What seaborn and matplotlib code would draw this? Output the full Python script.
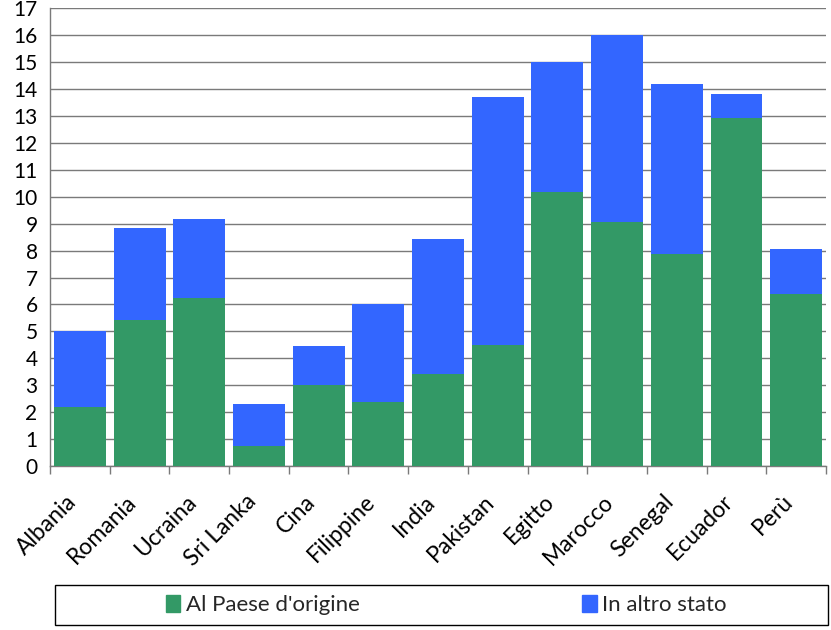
import pandas as pd
import matplotlib.pyplot as plt
import matplotlib.transforms as mtrans
import seaborn as sns
from matplotlib.patches import Patch, Rectangle

# dati
paesi = ["Albania", "Romania", "Ucraina", "Sri Lanka", "Cina", "Filippine", "India",
         "Pakistan", "Egitto", "Marocco", "Senegal", "Ecuador", "Perù"]
paese_origine = [2.2, 5.41, 6.24, 0.75, 3.0, 2.37, 3.41, 4.49, 10.16, 9.06, 7.89, 12.92, 6.38]
altro_stato = [2.8, 3.42, 2.92, 1.57, 1.45, 3.63, 5.01, 9.23, 4.84, 6.94, 6.31, 0.91, 1.67]

VERDE = "#339966"
BLU = "#3366FF"

sns.set_theme(style="white")
plt.rcParams['font.family'] = ['Lato', 'DejaVu Sans']

df = pd.DataFrame({"paese": paesi, "origine": paese_origine, "altro": altro_stato})
df["totale"] = df["origine"] + df["altro"]

fig = plt.figure(figsize=(8.31, 6.30), dpi=100)
ax = fig.add_axes([0.0602, 0.2603, 0.9338, 0.7265])

# barre impilate: prima il totale (blu), sopra la parte verde
sns.barplot(data=df, x="paese", y="totale", color=BLU, saturation=1, width=0.87, ax=ax,
            zorder=3, linewidth=0)
sns.barplot(data=df, x="paese", y="origine", color=VERDE, saturation=1, width=0.87, ax=ax,
            zorder=4, linewidth=0)

ax.set_ylim(0, 17)
ax.set_xlim(-0.5, len(paesi) - 0.5)
ax.set_yticks(range(0, 18))
ax.grid(axis="y", color="#7a7a7a", linewidth=1, zorder=0)
ax.set_xlabel("")
ax.set_ylabel("")

for s in ["top", "right"]:
    ax.spines[s].set_visible(False)
for s in ["left", "bottom"]:
    ax.spines[s].set_color("#7a7a7a")
    ax.spines[s].set_linewidth(1)

ax.tick_params(axis="y", length=7, width=1, color="#7a7a7a", labelsize=15, pad=2, labelcolor="black")
ax.tick_params(axis="x", which="major", length=0, labelsize=16.5, pad=18, labelcolor="black")
ax.set_xticks([i - 0.5 for i in range(len(paesi) + 1)], minor=True)
ax.tick_params(axis="x", which="minor", length=6, width=1, color="#7a7a7a", direction="out", bottom=True)
sposta = mtrans.ScaledTranslation(-14 / 100, 0, fig.dpi_scale_trans)
for lab in ax.get_xticklabels():
    lab.set_rotation(45)
    lab.set_ha("right")
    lab.set_rotation_mode("anchor")
    lab.set_transform(lab.get_transform() + sposta)

# legenda in riquadro sotto il grafico
fig.patches.append(Rectangle((55 / 831, 5 / 630), 773 / 831, 40 / 630, transform=fig.transFigure,
                             fill=False, edgecolor="black", linewidth=1))
maniglie = [Patch(color=VERDE, label="Al Paese d'origine"), Patch(color=BLU, label="In altro stato")]
fig.legend(handles=maniglie, ncol=2, frameon=False, fontsize=16,
           loc="center left", bbox_to_anchor=(146 / 831, 25 / 630),
           handlelength=0.65, handleheight=0.85, handletextpad=0.25, columnspacing=10.0)

fig.savefig("out.png", dpi=100)
